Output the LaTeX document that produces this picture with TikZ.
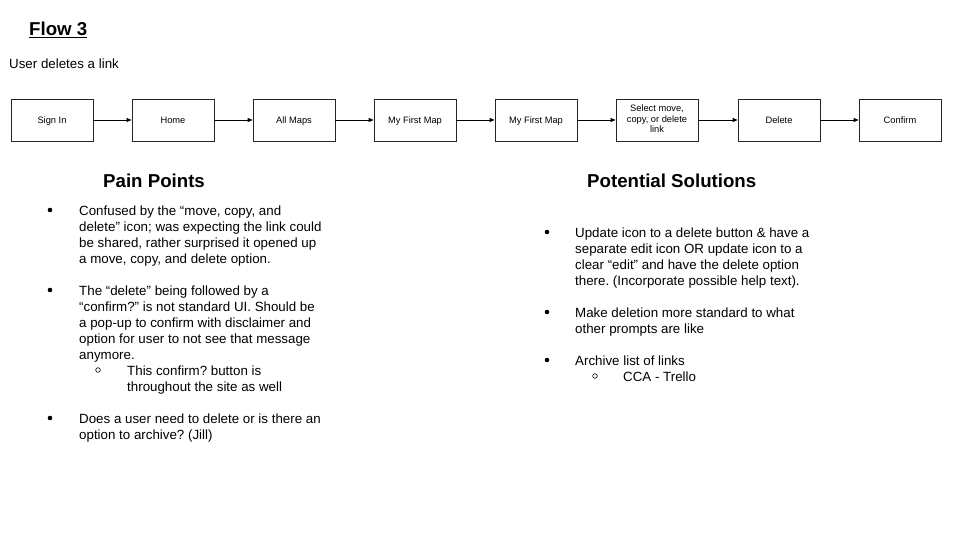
\documentclass[tikz,border=0pt]{standalone}
\usepackage{fontspec}
\setmainfont{Liberation Sans}
\usetikzlibrary{arrows.meta}
\frenchspacing
\tikzset{
  box/.style={draw=black!85, line width=0.8pt, minimum width=82pt, minimum height=42pt, inner sep=0pt, align=center, font=\fontsize{9.3}{10.5}\selectfont, text height=6.7pt, text depth=0pt},
  flow/.style={draw=black, line width=0.8pt, -{Triangle[length=5pt,width=4pt]}},
  txt/.style={anchor=base west, inner sep=0pt, font=\fontsize{13.33}{16}\selectfont},
  head/.style={anchor=base west, inner sep=0pt, font=\fontsize{18.67}{22}\selectfont\bfseries},
  dot/.style={fill=black},
  ring/.style={draw=black, line width=0.6pt}
}
\begin{document}
\begin{tikzpicture}[x=1pt,y=-1pt]
\useasboundingbox (0,0) rectangle (960,540);
% title
\node[head] (title) at (29,36) {\underline{Flow 3}};
\node[txt] (sub) at (9,69) {User deletes a link};
% flow
\node[box] (b1) at (52,120) {Sign In};
\node[box] (b2) at (173,120) {Home};
\node[box] (b3) at (294,120) {All Maps};
\node[box] (b4) at (415,120) {My First Map};
\node[box] (b5) at (536,120) {My First Map};
\node[box, text height={}, text depth={}] (b6) at (657,120) {\begin{tabular}{@{}c@{}}Select move,\\copy, or delete\\link\end{tabular}};
\node[box] (b7) at (779,120) {Delete};
\node[box] (b8) at (900,120) {Confirm};
\foreach \a/\b in {b1/b2,b2/b3,b3/b4,b4/b5,b5/b6,b6/b7,b7/b8} \draw[flow] (\a) -- (\b);
% pain points
\node[head] (pp) at (103,187) {Pain Points};
\fill[dot] (50,210) circle (2.3);
\node[txt] (p1a) at (79,215) {Confused by the “move, copy, and};
\node[txt] (p1b) at (79,231) {delete” icon; was expecting the link could};
\node[txt] (p1c) at (79,247) {be shared, rather surprised it opened up};
\node[txt] (p1d) at (79,263) {a move, copy, and delete option.};
\fill[dot] (50,290) circle (2.3);
\node[txt] (p2a) at (79,295) {The “delete” being followed by a};
\node[txt] (p2b) at (79,311) {“confirm?” is not standard UI. Should be};
\node[txt] (p2c) at (79,327) {a pop-up to confirm with disclaimer and};
\node[txt] (p2d) at (79,343) {option for user to not see that message};
\node[txt] (p2e) at (79,359) {anymore.};
\draw[ring] (98,370) circle (2.3);
\node[txt] (p2f) at (127,375) {This confirm? button is};
\node[txt] (p2g) at (127,391) {throughout the site as well};
\fill[dot] (50,418) circle (2.3);
\node[txt] (p3a) at (79,423) {Does a user need to delete or is there an};
\node[txt] (p3b) at (79,439) {option to archive? (Jill)};
% potential solutions
\node[head] (ps) at (587,187) {Potential Solutions};
\fill[dot] (547,232) circle (2.3);
\node[txt] (s1a) at (575,237) {Update icon to a delete button \& have a};
\node[txt] (s1b) at (575,253) {separate edit icon OR update icon to a};
\node[txt] (s1c) at (575,269) {clear “edit” and have the delete option};
\node[txt] (s1d) at (575,285) {there. (Incorporate possible help text).};
\fill[dot] (547,312) circle (2.3);
\node[txt] (s2a) at (575,317) {Make deletion more standard to what};
\node[txt] (s2b) at (575,333) {other prompts are like};
\fill[dot] (547,360) circle (2.3);
\node[txt] (s3a) at (575,365) {Archive list of links};
\draw[ring] (595,376) circle (2.3);
\node[txt] (s3b) at (623,381) {CCA - Trello};
\end{tikzpicture}
\end{document}
